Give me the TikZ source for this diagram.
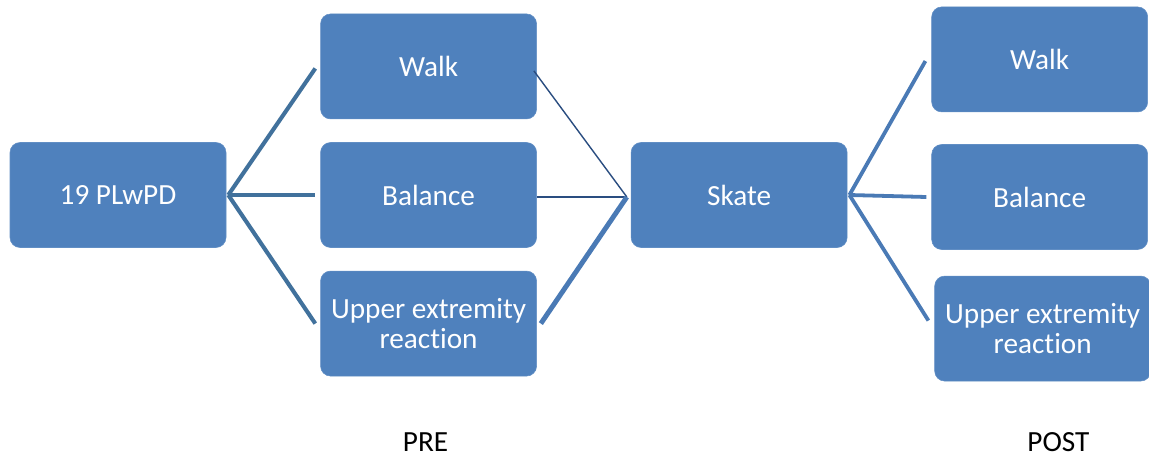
\documentclass[tikz,border=0pt]{standalone}
\usepackage{fontspec}
\setmainfont[Ligatures=NoCommon]{Carlito}
\usepackage{tikz}
\usetikzlibrary{positioning}
\definecolor{boxblue}{HTML}{4F81BD}
\definecolor{lineblue}{HTML}{41719C}
\definecolor{darkline}{HTML}{2A4D80}
\definecolor{midline}{HTML}{4A7AB5}
\tikzstyle{testbox} = [rectangle,rounded corners=0.25cm,fill=boxblue,draw=boxblue!90!white,text=white,minimum width=5.4cm,minimum height=2.625cm,align=center,font=\fontsize{20.8}{22}\selectfont]
\tikzstyle{branch} = [lineblue,line width=2.9pt]
\tikzstyle{thinline} = [darkline,line width=1pt]
\tikzstyle{fatline} = [midline,line width=3.5pt]
\tikzstyle{postline} = [midline,line width=2.7pt]

\begin{document}
\begin{tikzpicture}
	\useasboundingbox (0,0) rectangle (28.725,11.45);

	%Nodes
	\node [testbox] (Group) at (2.95,6.575) {19 PLwPD};
	\node [testbox, right=2.35cm of Group] (BalPre) {Balance};
	\node [testbox, above=0.575cm of BalPre] (WalkPre) {Walk};
	\node [testbox, below=0.575cm of BalPre] (UpperPre) {Upper extremity\\reaction};
	\node [testbox, right=2.35cm of BalPre] (Skate) {Skate};
	\node [testbox, right=2.1cm of Skate, yshift=-0.05cm] (BalPost) {Balance};
	\node [testbox, above=0.8cm of BalPost, yshift=0cm] (WalkPost) {Walk};
	\node [testbox, below=0.65cm of BalPost, xshift=0.075cm] (UpperPost) {Upper extremity\\reaction};
	\node [font=\fontsize{20.8}{22}\selectfont] (Pre) at (10.64,0.4) {PRE};
	\node [font=\fontsize{20.8}{22}\selectfont] (Post) at (26.46,0.4) {POST};

	%Lines
	\draw[branch] ([xshift=0.05cm]Group.east) -- ([xshift=-0.125cm,yshift=-0.05cm]WalkPre.west);
	\draw[branch] ([xshift=0.05cm]Group.east) -- ([xshift=-0.125cm]BalPre.west);
	\draw[branch] ([xshift=0.05cm]Group.east) -- ([xshift=-0.125cm]UpperPre.west);
	\draw[thinline] ([xshift=-0.075cm,yshift=-0.11cm]WalkPre.east) -- ([xshift=-0.1cm,yshift=-0.05cm]Skate.west);
	\draw[thinline] ([yshift=-0.05cm]BalPre.east) -- ([xshift=-0.1cm,yshift=-0.05cm]Skate.west);
	\draw[fatline] ([xshift=0.1cm]UpperPre.east) -- ([xshift=-0.1cm,yshift=-0.05cm]Skate.west);
	\draw[postline] ([xshift=0.05cm]Skate.east) -- ([xshift=-0.15cm,yshift=-0.04cm]WalkPost.west);
	\draw[postline] ([xshift=0.05cm]Skate.east) -- ([xshift=-0.125cm]BalPost.west);
	\draw[postline] ([xshift=0.05cm]Skate.east) -- ([xshift=-0.15cm,yshift=0.2cm]UpperPost.west);

\end{tikzpicture}
\end{document}
